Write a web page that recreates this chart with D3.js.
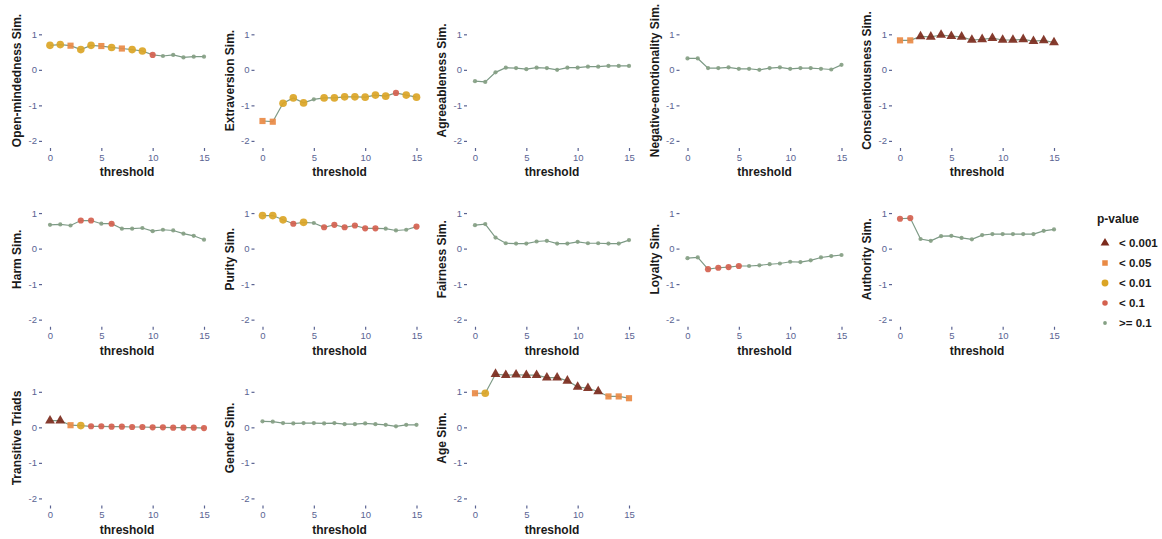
<!DOCTYPE html>
<html>
<head>
<meta charset="utf-8">
<script src="https://cdn.jsdelivr.net/npm/d3@7"></script>
<style>
  body { margin: 0; background: #fff; }
  text { font-family: "Liberation Sans", Arial, sans-serif; }
</style>
</head>
<body>
<svg id="chart"></svg>
<script>
const width = 1162;
const height = 539;
const svg = d3.select("#chart").attr("width", width).attr("height", height);

// Data
const thresholds = [0, 1, 2, 3, 4, 5, 6, 7, 8, 9, 10, 11, 12, 13, 14, 15];
const panelTitles = [
  "Open-mindedness Sim.", "Extraversion Sim.", "Agreeableness Sim.",
  "Negative-emotionality Sim.", "Conscientiousness Sim.",
  "Harm Sim.", "Purity Sim.", "Fairness Sim.", "Loyalty Sim.", "Authority Sim.",
  "Transitive Triads", "Gender Sim.", "Age Sim."
];
// p-value classes: T < 0.001, S < 0.05, Y < 0.01, R < 0.1, G >= 0.1
const pLabels = ["< 0.001", "< 0.05", "< 0.01", "< 0.1", ">= 0.1"];
const pCodes = ["T", "S", "Y", "R", "G"];

const openValues = [0.69, 0.71, 0.68, 0.57, 0.69, 0.67, 0.63, 0.6, 0.57, 0.53, 0.42, 0.39, 0.42, 0.35, 0.37, 0.37];
const openP = ["Y","Y","S","Y","Y","S","Y","S","Y","Y","R","G","G","G","G","G"];
const extraValues = [-1.44, -1.46, -0.94, -0.79, -0.93, -0.83, -0.79, -0.79, -0.76, -0.76, -0.77, -0.71, -0.74, -0.65, -0.71, -0.77];
const extraP = ["S","S","Y","Y","Y","G","Y","Y","Y","Y","Y","Y","Y","R","Y","Y"];
const agreeValues = [-0.32, -0.34, -0.07, 0.06, 0.05, 0.02, 0.06, 0.05, 0.0, 0.06, 0.06, 0.09, 0.09, 0.11, 0.11, 0.11];
const agreeP = ["G","G","G","G","G","G","G","G","G","G","G","G","G","G","G","G"];
const negValues = [0.32, 0.32, 0.05, 0.05, 0.07, 0.03, 0.03, 0.0, 0.05, 0.07, 0.03, 0.05, 0.05, 0.03, 0.01, 0.14];
const negP = ["G","G","G","G","G","G","G","G","G","G","G","G","G","G","G","G"];
const consValues = [0.83, 0.83, 0.94, 0.93, 0.98, 0.95, 0.93, 0.84, 0.86, 0.89, 0.84, 0.84, 0.86, 0.81, 0.83, 0.77];
const consP = ["S","S","T","T","T","T","T","T","T","T","T","T","T","T","T","T"];
const harmValues = [0.67, 0.68, 0.65, 0.79, 0.79, 0.7, 0.7, 0.56, 0.56, 0.58, 0.49, 0.53, 0.51, 0.42, 0.36, 0.25];
const harmP = ["G","G","G","R","R","G","R","G","G","G","G","G","G","G","G","G"];
const purityValues = [0.93, 0.93, 0.81, 0.7, 0.74, 0.72, 0.6, 0.67, 0.6, 0.65, 0.57, 0.57, 0.56, 0.51, 0.53, 0.62];
const purityP = ["Y","Y","Y","R","Y","G","R","R","R","R","R","R","G","G","G","R"];
const fairValues = [0.66, 0.69, 0.31, 0.15, 0.14, 0.14, 0.2, 0.22, 0.14, 0.14, 0.19, 0.15, 0.15, 0.14, 0.14, 0.24];
const fairP = ["G","G","G","G","G","G","G","G","G","G","G","G","G","G","G","G"];
const loyalValues = [-0.27, -0.25, -0.58, -0.54, -0.52, -0.49, -0.49, -0.47, -0.44, -0.42, -0.37, -0.38, -0.33, -0.25, -0.21, -0.18];
const loyalP = ["G","G","R","R","R","R","G","G","G","G","G","G","G","G","G","G"];
const authValues = [0.84, 0.86, 0.27, 0.22, 0.35, 0.36, 0.3, 0.26, 0.38, 0.41, 0.41, 0.41, 0.41, 0.41, 0.5, 0.54];
const authP = ["R","R","G","G","G","G","G","G","G","G","G","G","G","G","G","G"];
const triadValues = [0.19, 0.19, 0.06, 0.05, 0.03, 0.03, 0.02, 0.02, 0.01, 0.01, 0.0, 0.0, -0.01, -0.01, -0.01, -0.02];
const triadP = ["T","T","S","Y","R","R","R","R","R","R","R","R","R","R","R","R"];
const genderValues = [0.17, 0.16, 0.12, 0.11, 0.12, 0.12, 0.11, 0.12, 0.09, 0.09, 0.11, 0.09, 0.07, 0.03, 0.07, 0.07];
const genderP = ["G","G","G","G","G","G","G","G","G","G","G","G","G","G","G","G"];
const ageValues = [0.96, 0.96, 1.5, 1.47, 1.48, 1.47, 1.47, 1.4, 1.4, 1.31, 1.14, 1.1, 1.01, 0.87, 0.87, 0.82];
const ageP = ["S","Y","T","T","T","T","T","T","T","T","T","T","T","S","S","S"];

const yTicks = [-2, -1, 0, 1];
const xTicks = [0, 5, 10, 15];

const panels = [
  [openValues, openP], [extraValues, extraP], [agreeValues, agreeP], [negValues, negP], [consValues, consP],
  [harmValues, harmP], [purityValues, purityP], [fairValues, fairP], [loyalValues, loyalP], [authValues, authP],
  [triadValues, triadP], [genderValues, genderP], [ageValues, ageP]
].map(([vals, ps], i) => ({
  title: panelTitles[i],
  data: thresholds.map((t, j) => ({ t: t, v: vals[j], p: ps[j] }))
}));

// Styles per p-value class
const pColor = d3.scaleOrdinal().domain(pCodes)
  .range(["#7b2a1c", "#e98a45", "#dba526", "#d4614f", "#85a084"]);
const pShape = d3.scaleOrdinal().domain(pCodes)
  .range([d3.symbolTriangle, d3.symbolSquare, d3.symbolCircle, d3.symbolCircle, d3.symbolCircle]);
const pSize = d3.scaleOrdinal().domain(pCodes).range([42, 38, 46, 30, 14]);

// Layout
const plotW = 154;
const plotH = 135;
const colStep = 212.5;
const rowStep = 178.75;
const left0 = 50;
const top0 = 13;

const xScale = d3.scaleLinear().domain([0, 15]).range([0, plotW]);
const yScale = d3.scaleLinear().domain([-2.2, 1.6]).range([plotH, 0]);

const lineGen = d3.line().x((d) => xScale(d.t)).y((d) => yScale(d.v));

const tickColor = "#5a6392";

panels.forEach((p, i) => {
  const col = i % 5;
  const row = Math.floor(i / 5);
  const g = svg.append("g")
    .attr("transform", `translate(${left0 + col * colStep},${top0 + row * rowStep})`);

  // y-axis
  const yAxisG = g.append("g")
    .attr("transform", "translate(-8,0)")
    .call(d3.axisLeft(yScale).tickValues(yTicks).tickSize(3).tickPadding(2).tickFormat(d3.format("d")));
  yAxisG.select(".domain").remove();
  yAxisG.selectAll("line").attr("stroke", tickColor).attr("stroke-width", 1.2);
  yAxisG.selectAll("text").attr("fill", tickColor).attr("font-size", "9.5px")
    .text((d) => (d < 0 ? "-" + Math.abs(d) : d));

  // x-axis
  const xAxisG = g.append("g")
    .attr("transform", `translate(0,${plotH})`)
    .call(d3.axisBottom(xScale).tickValues(xTicks).tickSize(3).tickPadding(3));
  xAxisG.select(".domain").remove();
  xAxisG.selectAll("line").attr("stroke", tickColor).attr("stroke-width", 1.2);
  xAxisG.selectAll("text").attr("fill", tickColor).attr("font-size", "9.5px");

  // axis titles
  g.append("text")
    .attr("x", plotW / 2)
    .attr("y", plotH + 28)
    .attr("text-anchor", "middle")
    .attr("font-size", "12px")
    .attr("font-weight", "bold")
    .attr("fill", "#1a1a1a")
    .text("threshold");
  g.append("text")
    .attr("transform", `translate(-33,${plotH / 2}) rotate(-90)`)
    .attr("text-anchor", "middle")
    .attr("dy", "0.35em")
    .attr("font-size", "12px")
    .attr("font-weight", "bold")
    .attr("fill", "#1a1a1a")
    .text(p.title);

  // line
  g.append("path")
    .attr("d", lineGen(p.data))
    .attr("fill", "none")
    .attr("stroke", "#7d9a86")
    .attr("stroke-width", 1.2);

  // points
  g.selectAll(".pt")
    .data(p.data)
    .join("path")
    .attr("class", "pt")
    .attr("transform", (d) => `translate(${xScale(d.t)},${yScale(d.v)})`)
    .attr("d", (d) => d3.symbol(pShape(d.p), pSize(d.p))())
    .attr("fill", (d) => pColor(d.p))
    .attr("opacity", 0.92);
});

// Legend
const legend = svg.append("g").attr("transform", "translate(1097,0)");
legend.append("text")
  .attr("x", 0)
  .attr("y", 223)
  .attr("font-size", "12px")
  .attr("font-weight", "bold")
  .attr("fill", "#1a1a1a")
  .text("p-value");
const items = legend.selectAll(".item")
  .data(pCodes)
  .join("g")
  .attr("class", "item")
  .attr("transform", (d, i) => `translate(0,${243 + i * 20})`);
items.append("path")
  .attr("transform", "translate(8,0)")
  .attr("d", (d) => d3.symbol(pShape(d), pSize(d) * 0.8)())
  .attr("fill", (d) => pColor(d));
items.append("text")
  .attr("x", 22)
  .attr("dy", "0.35em")
  .attr("font-size", "11.5px")
  .attr("font-weight", "bold")
  .attr("fill", "#1a1a1a")
  .text((d, i) => pLabels[i]);
</script>
</body>
</html>
